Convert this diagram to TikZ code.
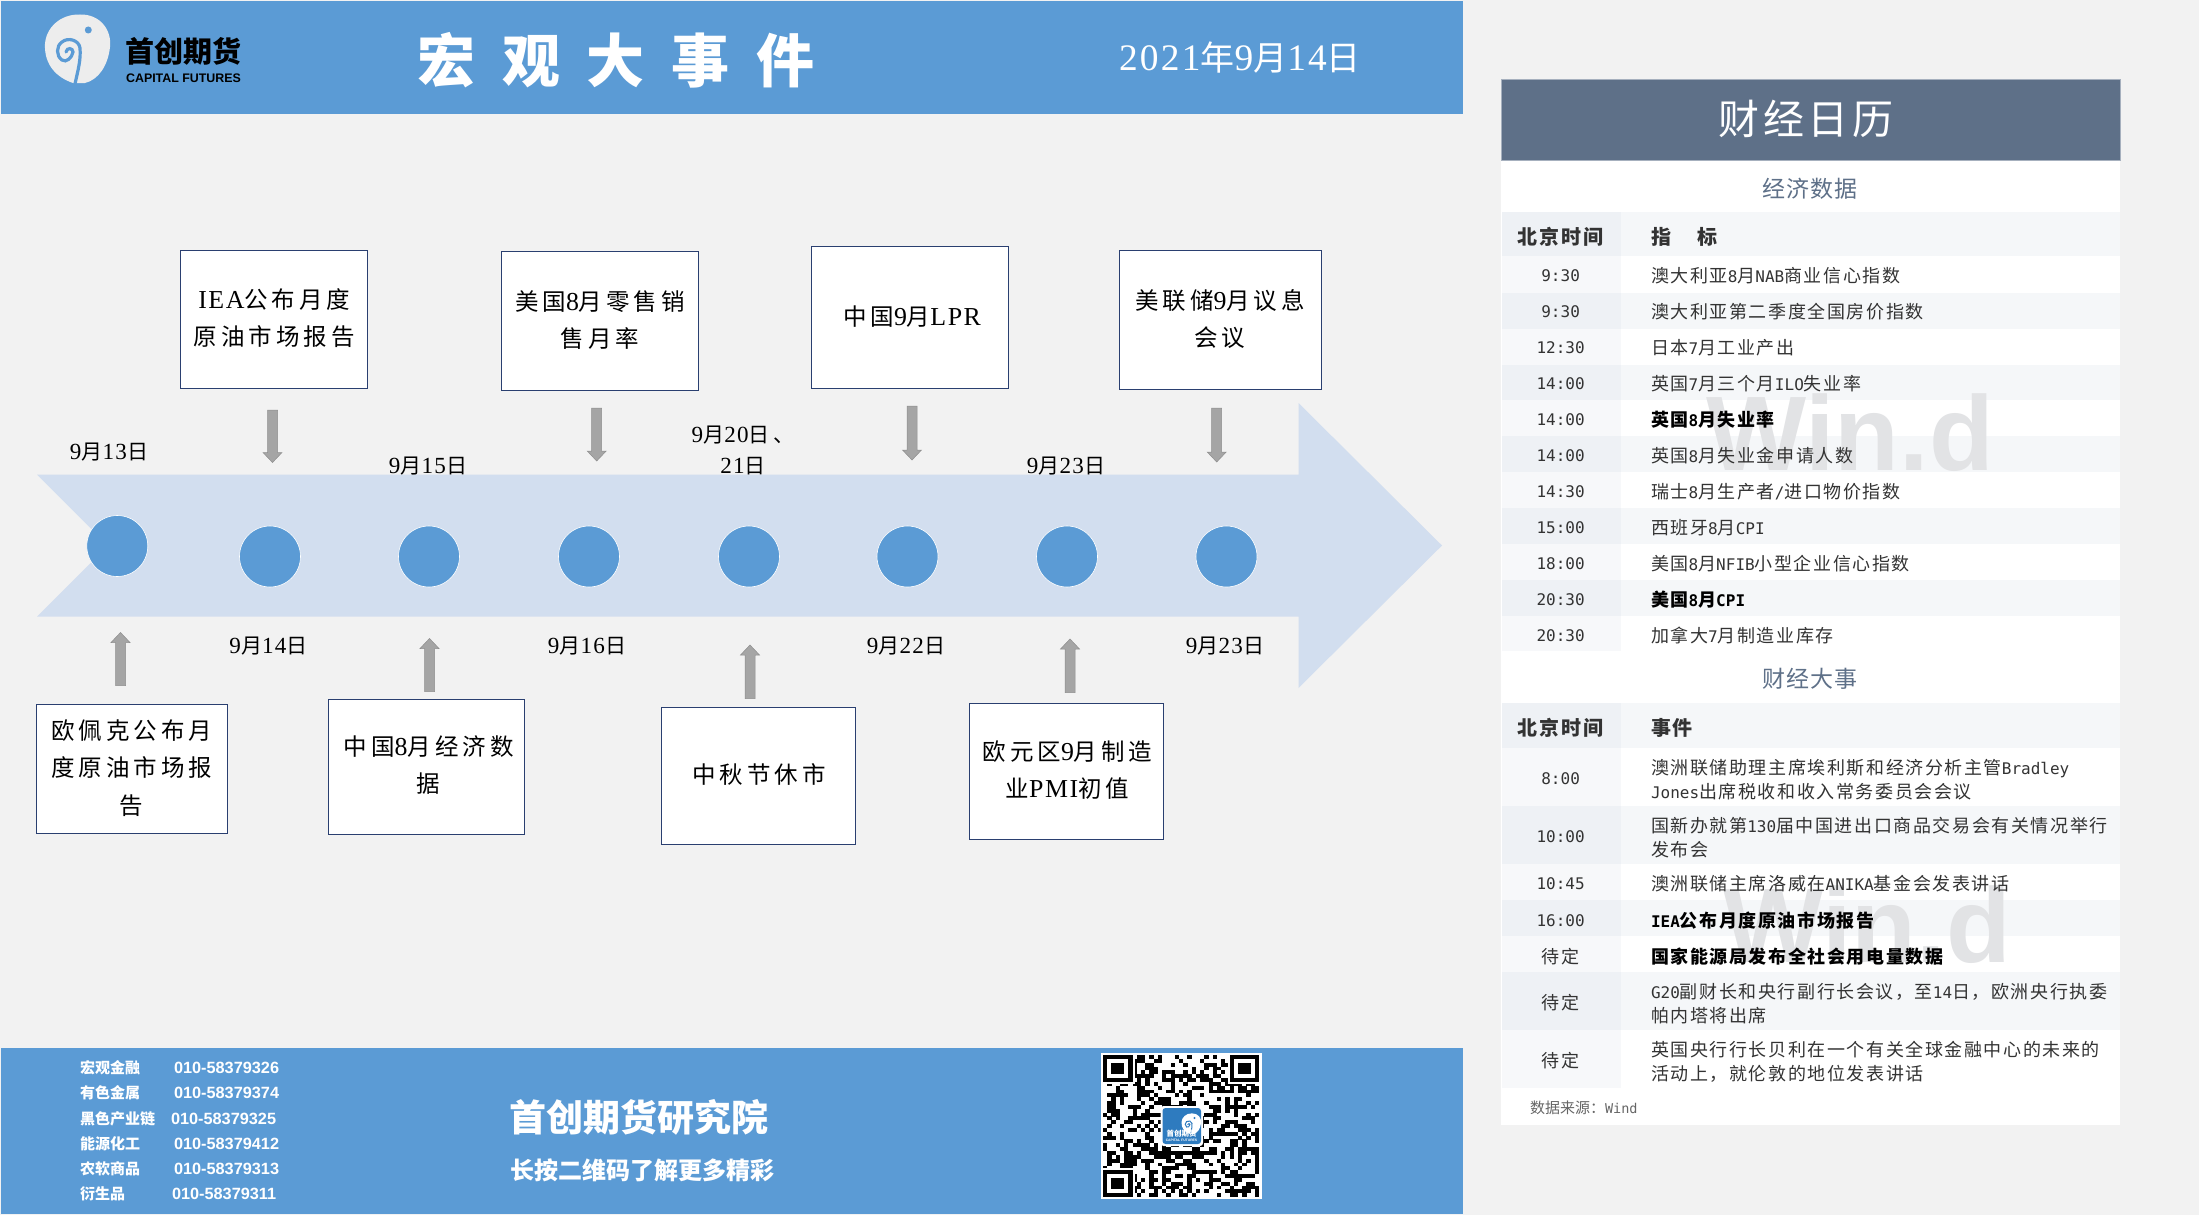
\documentclass[tikz,border=0pt]{standalone}
\usepackage{fontspec}
\setmainfont{Noto Sans CJK SC}
\newfontfamily\tcn[LetterSpace=8.8]{Noto Sans CJK SC}
\newfontfamily\headcn[LetterSpace=3]{Noto Sans CJK SC}
\newfontfamily\boxcn[LetterSpace=17]{Noto Sans CJK SC}
\newfontfamily\titlecn[LetterSpace=46]{Noto Sans CJK SC}
\newfontfamily\tmono{DejaVu Sans Mono}
\newfontfamily\tserif[LetterSpace=6,Scale=1.1]{Liberation Serif}
\newfontfamily\tsans{Liberation Sans}
\newcommand{\lm}[1]{{\tmono\fontsize{16}{24}\selectfont #1}}
\newcommand{\ls}[1]{{\tserif #1}}
\definecolor{bluef}{HTML}{5B9BD5}
\definecolor{page}{HTML}{F2F2F2}
\definecolor{band}{HTML}{D2DEEF}
\definecolor{slate}{HTML}{5E7088}
\definecolor{rowa}{HTML}{F5F7F9}
\definecolor{cola}{HTML}{EEF1F5}
\definecolor{colb}{HTML}{F7F8FA}
\definecolor{txt}{HTML}{333333}
\definecolor{arrowf}{HTML}{A5A5A5}
\definecolor{arrowd}{HTML}{8E8E8E}
\definecolor{boxline}{HTML}{2A3F70}
\definecolor{wm}{HTML}{E2E3E5}
\definecolor{qrblue}{HTML}{2E7BBF}
\definecolor{logow}{HTML}{EDEDED}
\tikzset{
  x=1pt,y=-1pt,
  every node/.style={inner sep=0pt,outer sep=0pt},
  evbox/.style={draw=boxline,line width=0.9pt,fill=white},
  boxtext/.style={align=center,text=black,font=\boxcn\fontsize{23.5}{37.6}\selectfont},
  datelabel/.style={align=center,text=black,font=\boxcn\fontsize{21}{31}\selectfont},
  dot/.style={circle,fill=bluef,draw=white,line width=0.6pt,minimum size=61pt},
  barrow/.style={fill=arrowf,draw=arrowd,line width=0.5pt,line join=miter},
  timecell/.style={text=txt,font=\tcn\fontsize{18}{24}\selectfont},
  rowtext/.style={anchor=west,text=txt,font=\tcn\fontsize{18}{24}\selectfont},
  boldrow/.style={rowtext,text=black,font=\tcn\bfseries\fontsize{18}{24}\selectfont},
  rowhead/.style={text=txt,font=\tcn\bfseries\fontsize{20}{24}\selectfont},
  sechead/.style={text=slate,font=\headcn\fontsize{23}{28}\selectfont},
  contact/.style={anchor=west,text=white,font=\bfseries\fontsize{15}{18}\selectfont},
  phone/.style={anchor=west,text=white,font=\tsans\bfseries\fontsize{16.3}{18}\selectfont},
  wmark/.style={anchor=base,text=wm,font=\tsans\bfseries\fontsize{106}{106}\selectfont},
}
% logo mark, drawn in the coordinates of the page header
\newcommand{\logomark}[3]{%
  \fill[#1] (80,14.5) .. controls (100,14) and (112,30) .. (110,47) .. controls (108,66) and (98,80) .. (85,83) -- (73,83)
    .. controls (58,78) and (44,66) .. (45,44) .. controls (46,28) and (60,14) .. (80,14.5) -- cycle;
  \draw[#2,line width=#3,line cap=round] (75,84) .. controls (78,70) and (81,60) .. (80,48) .. controls (79,40) and (68,37) .. (62,42)
    .. controls (56,46) and (56,56) .. (62,60) .. controls (66,63) and (72,58) .. (73,52) .. controls (73,48) and (67,47) .. (66,52);
  \fill[#2] (88.3,30) circle[radius=3.5];
}
% block arrows
\newcommand{\downarrowblock}[3]{\path[barrow] (#1-5,#2) -- (#1+5,#2) -- (#1+5,#3-10) -- (#1+9.5,#3-10) -- (#1,#3) -- (#1-9.5,#3-10) -- (#1-5,#3-10) -- cycle;}
\newcommand{\uparrowblock}[3]{\path[barrow] (#1-5,#3) -- (#1+5,#3) -- (#1+5,#2+10) -- (#1+9.5,#2+10) -- (#1,#2) -- (#1-9.5,#2+10) -- (#1-5,#2+10) -- cycle;}
% rows of the tables
\newcommand{\grayrow}[2]{\fill[rowa] (1501.5,#1) rectangle (2120,#2);\fill[cola] (1501.5,#1) rectangle (1620.5,#2);}
\newcommand{\whiterow}[2]{\fill[colb] (1501.5,#1) rectangle (1620.5,#2);}
\begin{document}
\begin{tikzpicture}
\useasboundingbox (0,0) rectangle (2199,1215);
\fill[page] (0,0) rectangle (2199,1215);
% header
\fill[bluef] (1,1) rectangle (1463,114);
\logomark{logow}{bluef}{3.2pt}
\node[text=black,font=\bfseries\fontsize{29}{30}\selectfont] (logotext) at (183.5,51) {首创期货};
\node[text=black,font=\tsans\bfseries\fontsize{12.4}{12}\selectfont] (logosub) at (183.5,78.5) {CAPITAL FUTURES};
\node[text=white,font=\titlecn\bfseries\fontsize{58}{60}\selectfont] (title) at (616,60) {宏观大事件};
\node[text=white,font=\boxcn\fontsize{34}{38}\selectfont] (date) at (1240,58) {\ls{2021}年\ls{9}月\ls{14}日};
% footer
\fill[bluef] (1,1048) rectangle (1463,1214);
\foreach \n/\y/\lab/\num in {a/1068/宏观金融/010-58379326,b/1093/有色金属/010-58379374,d/1144/能源化工/010-58379412,e/1169/农软商品/010-58379313}{
  \node[contact] (fl\n) at (80,\y) {\lab};
  \node[phone] (fn\n) at (174,\y) {\num};
}
\node[contact] (flc) at (80,1119) {黑色产业链};
\node[phone] (fnc) at (171,1119) {010-58379325};
\node[contact] (flf) at (80,1194) {衍生品};
\node[phone] (fnf) at (172,1194) {010-58379311};
\node[anchor=west,text=white,font=\bfseries\fontsize{37}{40}\selectfont] (inst) at (509,1117.5) {首创期货研究院};
\node[anchor=west,text=white,font=\bfseries\fontsize{24}{28}\selectfont] (scan) at (510,1170) {长按二维码了解更多精彩};
% QR code
\fill[white] (1101,1053) rectangle (1261.5,1198.5);
\begin{scope}[shift={(1103,1055)},x=4.22pt,y=-3.84pt]
  \pgfmathsetseed{4242}
  \foreach \i in {0,...,36}{
    \foreach \j in {0,...,36}{
      \pgfmathsetmacro{\r}{rnd}
      \pgfmathparse{(\r>0.52)?1:0}
      \ifnum\pgfmathresult=1
        \fill[black] (\i,\j) rectangle (\i+1.02,\j+1.02);
      \fi
    }
  }
  \foreach \fx/\fy in {0/0,30/0,0/30}{
    \fill[white] (\fx-0.5,\fy-0.5) rectangle (\fx+7.5,\fy+7.5);
    \fill[black] (\fx,\fy) rectangle (\fx+7,\fy+7);
    \fill[white] (\fx+1,\fy+1) rectangle (\fx+6,\fy+6);
    \fill[black] (\fx+2,\fy+2) rectangle (\fx+5,\fy+5);
  }
\end{scope}
\fill[white,rounded corners=3pt] (1160.5,1106) rectangle (1203,1146);
\fill[qrblue,rounded corners=3pt] (1162.5,1108) rectangle (1201,1144);
\begin{scope}[shift={(1168,1109)},scale=0.3]
  \logomark{white}{qrblue}{1pt}
\end{scope}
\node[text=white,font=\bfseries\fontsize{7.5}{8}\selectfont] (qrcn) at (1181.5,1134) {首创期货};
\node[text=white,font=\tsans\bfseries\fontsize{3.4}{4}\selectfont] (qren) at (1181.5,1140.5) {CAPITAL FUTURES};
% band arrow
\fill[band] (37,474.5) -- (1298.5,474.5) -- (1298.5,403) -- (1442,545.5) -- (1298.5,688) -- (1298.5,616.7) -- (37,616.7) -- (108,545.5) -- cycle;
% dots
\node[dot] (d1) at (117.3,546) {};
\foreach \k/\xx in {2/270,3/429,4/589,5/749,6/907.5,7/1067,8/1226.5}{
  \node[dot] (d\k) at (\xx,556.5) {};
}
% date labels
\node[datelabel] (l1) at (109,452) {\ls{9}月\ls{13}日};
\node[datelabel] (l2) at (268.5,646) {\ls{9}月\ls{14}日};
\node[datelabel] (l3) at (428,465.6) {\ls{9}月\ls{15}日};
\node[datelabel] (l4) at (587,646) {\ls{9}月\ls{16}日};
\node[datelabel] (l5) at (743,450) {\ls{9}月\ls{20}日、\\\ls{21}日};
\node[datelabel] (l6) at (906,646) {\ls{9}月\ls{22}日};
\node[datelabel] (l7) at (1066,465.6) {\ls{9}月\ls{23}日};
\node[datelabel] (l8) at (1225,646) {\ls{9}月\ls{23}日};
% event boxes
\path[evbox] (180,250.5) rectangle (367,388);
\path[evbox] (501.5,251) rectangle (698.5,390);
\path[evbox] (811,246) rectangle (1008.5,388);
\path[evbox] (1119,250.5) rectangle (1321,389);
\path[evbox] (36,704.5) rectangle (227,833);
\path[evbox] (328.5,699) rectangle (524,834);
\path[evbox] (661.5,707) rectangle (855.5,844);
\path[evbox] (969,703) rectangle (1163.5,839);
\node[boxtext] (b1) at (274.4,318) {\ls{IEA}公布月度\\原油市场报告};
\node[boxtext] (b2) at (600,320) {美国\ls{8}月零售销\\售月率};
\node[boxtext] (b3) at (912,317) {中国\ls{9}月\ls{LPR}};
\node[boxtext] (b4) at (1220,319) {美联储\ls{9}月议息\\会议};
\node[boxtext] (b5) at (131.6,768) {欧佩克公布月\\度原油市场报\\告};
\node[boxtext] (b6) at (428.6,765) {中国\ls{8}月经济数\\据};
\node[boxtext] (b7) at (759,774) {中秋节休市};
\node[boxtext] (b8) at (1067.5,770) {欧元区\ls{9}月制造\\业\ls{PMI}初值};
% block arrows
\downarrowblock{272.5}{410}{462.5}
\downarrowblock{596.7}{408}{461}
\downarrowblock{912}{406}{460}
\downarrowblock{1216.7}{408}{462}
\uparrowblock{120.5}{632.5}{685.5}
\uparrowblock{429.5}{638.5}{691.5}
\uparrowblock{750}{645}{698.5}
\uparrowblock{1070}{639}{692.5}
% right panel
\fill[white] (1500.5,160) rectangle (2120,1125);
\path[fill=slate,draw=slate!55] (1501.5,79) rectangle (2120,160);
\node[text=white,font=\tcn\fontsize{41}{44}\selectfont] (cal) at (1806,119) {财经日历};
\node[sechead] (s1) at (1810,188.6) {经济数据};
\grayrow{212.4}{256}
\whiterow{256}{293}
\grayrow{293}{328.7}
\whiterow{328.7}{364.7}
\grayrow{364.7}{400.3}
\whiterow{400.3}{436.2}
\grayrow{436.2}{472.2}
\whiterow{472.2}{508.2}
\grayrow{508.2}{544.2}
\whiterow{544.2}{579.8}
\grayrow{579.8}{615.7}
\whiterow{615.7}{651}
\node[sechead] (s2) at (1810,679) {财经大事};
\grayrow{703.3}{747.7}
\whiterow{747.7}{805.7}
\grayrow{805.7}{864}
\whiterow{864}{900}
\grayrow{900}{936}
\whiterow{936}{972}
\grayrow{972}{1030}
\whiterow{1030}{1088}
% watermarks
\node[wmark] (wm1) at (1850,470) {Win.d};
\node[wmark] (wm2) at (1867,962) {Win.d};
% table 1
\node[rowhead] (h1a) at (1560.6,236.5) {北京时间};
\node[rowhead,anchor=west] (h1b) at (1651,236.5) {指\hspace{26pt}标};
\foreach \n/\y/\t in {1/276/9:30,2/312/9:30,3/348/12:30,4/384/14:00,5/419.5/14:00,6/456/14:00,7/492/14:30,8/528/15:00,9/564/18:00,10/600/20:30,11/635.5/20:30}{
  \node[timecell] (tt\n) at (1560.6,\y) {\lm{\t}};
}
\node[rowtext] (r1) at (1651,276) {澳大利亚\lm{8}月\lm{NAB}商业信心指数};
\node[rowtext] (r2) at (1651,312) {澳大利亚第二季度全国房价指数};
\node[rowtext] (r3) at (1651,348) {日本\lm{7}月工业产出};
\node[rowtext] (r4) at (1651,384) {英国\lm{7}月三个月\lm{ILO}失业率};
\node[boldrow] (r5) at (1651,419.5) {英国\lm{\bfseries 8}月失业率};
\node[rowtext] (r6) at (1651,456) {英国\lm{8}月失业金申请人数};
\node[rowtext] (r7) at (1651,492) {瑞士\lm{8}月生产者\lm{/}进口物价指数};
\node[rowtext] (r8) at (1651,528) {西班牙\lm{8}月\lm{CPI}};
\node[rowtext] (r9) at (1651,564) {美国\lm{8}月\lm{NFIB}小型企业信心指数};
\node[boldrow] (r10) at (1651,600) {美国\lm{\bfseries 8}月\lm{\bfseries CPI}};
\node[rowtext] (r11) at (1651,635.5) {加拿大\lm{7}月制造业库存};
% table 2
\node[rowhead] (h2a) at (1560.6,728.3) {北京时间};
\node[rowhead,anchor=west] (h2b) at (1651,728.3) {事件};
\foreach \n/\y/\t in {1/778.3/8:00,2/836.7/10:00,3/884/10:45,4/920.7/16:00}{
  \node[timecell] (ut\n) at (1560.6,\y) {\lm{\t}};
}
\node[timecell] (ut5) at (1560.6,956.7) {待定};
\node[timecell] (ut6) at (1560.6,1002.7) {待定};
\node[timecell] (ut7) at (1560.6,1061) {待定};
\node[rowtext,align=left] (e1) at (1651,779.3) {澳洲联储助理主席埃利斯和经济分析主管\lm{Bradley}\\\lm{Jones}出席税收和收入常务委员会会议};
\node[rowtext,align=left] (e2) at (1651,837.3) {国新办就第\lm{130}届中国进出口商品交易会有关情况举行\\发布会};
\node[rowtext] (e3) at (1651,884) {澳洲联储主席洛威在\lm{ANIKA}基金会发表讲话};
\node[boldrow] (e4) at (1651,920.7) {\lm{\bfseries IEA}公布月度原油市场报告};
\node[boldrow] (e5) at (1651,956.7) {国家能源局发布全社会用电量数据};
\node[rowtext,align=left] (e6) at (1651,1004) {\lm{G20}副财长和央行副行长会议，至\lm{14}日，欧洲央行执委\\帕内塔将出席};
\node[rowtext,align=left] (e7) at (1651,1061.5) {英国央行行长贝利在一个有关全球金融中心的未来的\\活动上，就伦敦的地位发表讲话};
\node[anchor=west,text=black!60,font=\fontsize{15}{18}\selectfont] (src) at (1530,1107.7) {数据来源：{\tmono\fontsize{13.5}{18}\selectfont Wind}};
\end{tikzpicture}
\end{document}
